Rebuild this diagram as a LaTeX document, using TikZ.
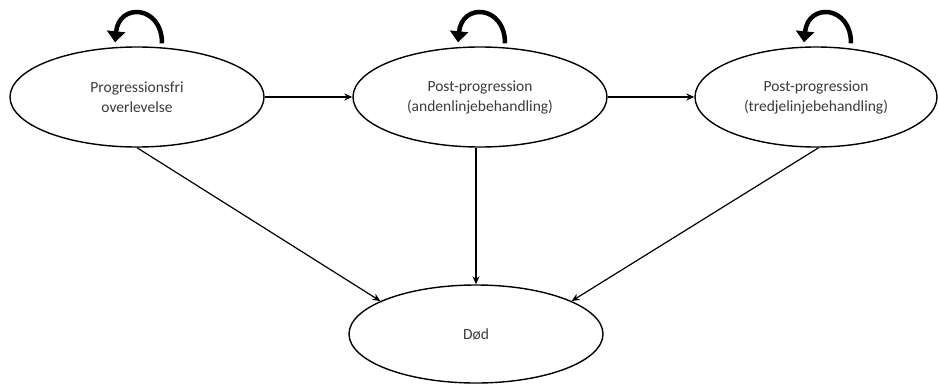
\documentclass[tikz,border=0pt]{standalone}
\usepackage{fontspec}
\setmainfont{Carlito}
\usetikzlibrary{shapes.geometric,arrows.meta}
\definecolor{txt}{HTML}{3A3A3A}
\tikzset{
  state/.style={ellipse, draw, line width=1.4pt, minimum width=254pt, minimum height=100pt,
    inner sep=0pt, align=center, text=txt, font=\fontsize{15.5pt}{20pt}\selectfont},
  trans/.style={line width=1.2pt, -{Stealth[length=8pt,width=7pt]}},
  selfloop/.style={line width=4.5pt, -{Triangle[length=11pt,width=18pt]}}
}
\begin{document}
\begin{tikzpicture}[x=1pt,y=-1pt]
\useasboundingbox (0,0) rectangle (939,383);

% health states
\node[state] (pfs) at (137,97) {Progressionsfri\\overlevelse};
\node[state] (pp2) at (480,97) {Post-progression\\(andenlinjebehandling)};
\node[state, minimum width=242pt] (pp3) at (816,97) {Post-progression\\(tredjelinjebehandling)};
\node[state, minimum height=98pt] (dod) at (476,334) {Død};

% staying in the same state
\foreach \s/\dx in {pfs/0, pp2/0, pp3/10} {
  \draw[selfloop] ([xshift=25pt+\dx pt, yshift=3pt]\s.north)
    .. controls +(0,-38) and +(4,-40) .. ([xshift=-22pt+\dx pt, yshift=4pt]\s.north);
}

% transitions between states
\draw[trans] (pfs.east) -- (pp2.west);
\draw[trans] (pp2.east) -- (pp3.west);
\draw[trans] (pfs.south) -- (dod.161);
\draw[trans] (pp2.south -| dod.north) -- (dod.north);
\draw[trans] (pp3.-87) -- (dod.19);
\end{tikzpicture}
\end{document}
